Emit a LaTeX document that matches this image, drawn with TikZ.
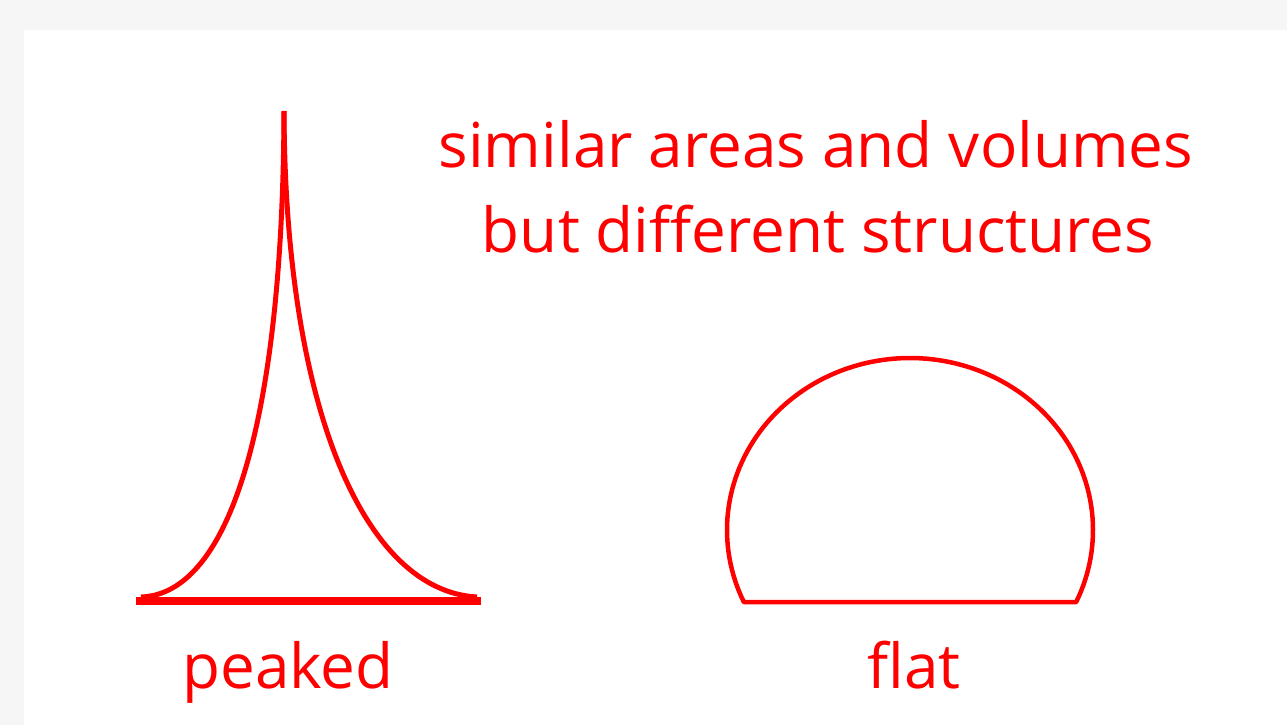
\documentclass[tikz,border=0pt]{standalone}
\usepackage{fontspec}
\setmainfont{Open Sans}
\definecolor{pagegray}{HTML}{F6F6F6}
\definecolor{inkred}{HTML}{FF0000}
\begin{document}
\begin{tikzpicture}[x=1pt,y=-1pt,
  lbl/.style={text=inkred,font=\fontsize{62}{70}\selectfont,anchor=base,inner sep=0pt},
  shape line/.style={draw=inkred,line width=5pt,line join=round}]
\useasboundingbox (0,0) rectangle (1287,725);
\fill[pagegray] (0,0) rectangle (1287,725);
\fill[white] (24,30) rectangle (1287,725);
% peaked shape
\coordinate (tip) at (284,111);
\coordinate (pl) at (141,597);
\coordinate (pr) at (477,597);
\coordinate (bl) at (136,601);
\coordinate (br) at (481,601);
\draw[shape line] (pl) .. controls (230,594) and (283,420) .. (tip);
\draw[shape line] (tip) .. controls (285,410) and (365,591) .. (pr);
\draw[draw=inkred,line width=8pt] (bl) -- (br);
% flat shape
\draw[shape line,line width=4.5pt] plot[domain=155.2:384.8,samples=120] ({910+183*cos(\x)},{530+172*sin(\x)}) -- cycle;
% texts
\node[lbl] (line1) at (816,167) {similar areas and volumes};
\node[lbl] (line2) at (818,252) {but different structures};
\node[lbl] (peaked) at (288,688) {peaked};
\node[lbl] (flat) at (914,688) {flat};
\end{tikzpicture}
\end{document}
